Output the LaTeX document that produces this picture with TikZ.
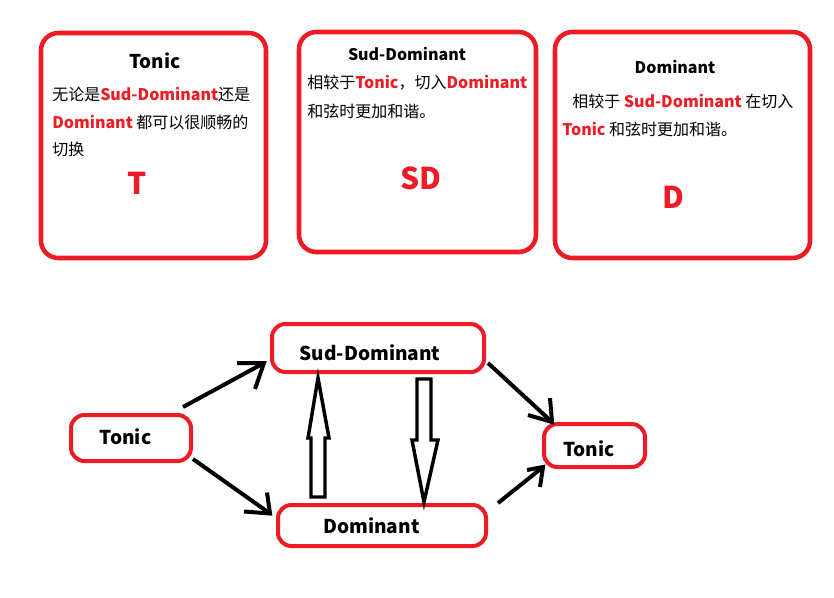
\documentclass[tikz,border=0pt]{standalone}
\usepackage{fontspec}
\setmainfont{Noto Sans CJK SC}
\usetikzlibrary{calc}
\definecolor{pred}{HTML}{ED1C24}
\newcommand\rb[1]{\textcolor{pred}{\bfseries #1}}
\begin{document}
\begin{tikzpicture}[x=0.75pt,y=-0.75pt,
  bigbox/.style={draw=pred,line width=3.4pt,rounded corners=13pt,inner sep=0pt,outer sep=0pt},
  statebox/.style={draw=pred,line width=3pt,rounded corners=10pt,inner sep=0pt,outer sep=0pt},
  statetext/.style={inner sep=0pt,font=\fontsize{14.3pt}{16pt}\selectfont\bfseries},
  body/.style={inner sep=0pt,anchor=base west,font=\fontsize{12pt}{14pt}\selectfont},
  title/.style={inner sep=0pt,anchor=base,font=\fontsize{12pt}{14pt}\selectfont\bfseries},
  letter/.style={inner sep=0pt,anchor=base,text=pred,font=\fontsize{22.5pt}{26pt}\selectfont\bfseries},
  link/.style={line width=3pt,black},
  hollow/.style={line width=2.6pt,black,line join=miter}]
\useasboundingbox (0,0) rectangle (834,597);

% top boxes
\node[bigbox,minimum width=225*0.75pt,minimum height=225*0.75pt] (b1) at (153.5,145.5) {};
\node[bigbox,minimum width=237*0.75pt,minimum height=220*0.75pt] (b2) at (417.5,142) {};
\node[bigbox,minimum width=255*0.75pt,minimum height=226*0.75pt] (b3) at (682.5,145) {};

% box 1
\node[title,font=\fontsize{14.2pt}{16pt}\selectfont\bfseries] (b1t) at (155,68) {Tonic};
\node[body] (b1l1) at (52,100) {无论是\rb{Sud-Dominant}还是};
\node[body] (b1l2) at (52,128) {\rb{Dominant} 都可以很顺畅的};
\node[body] (b1l3) at (52,155) {切换};
\node[letter] (b1x) at (137,194) {T};

% box 2
\node[title] (b2t) at (407,60) {Sud-Dominant};
\node[body] (b2l1) at (307,88) {相较于\rb{Tonic}，切入\rb{Dominant}};
\node[body] (b2l2) at (307,117) {和弦时更加和谐。};
\node[letter] (b2x) at (421,189) {SD};

% box 3
\node[title] (b3t) at (675,73) {Dominant};
\node[body] (b3l1) at (572,107) {相较于 \rb{Sud-Dominant} 在切入};
\node[body] (b3l2) at (562,135) {\rb{Tonic} 和弦时更加和谐。};
\node[letter] (b3x) at (673,208) {D};

% state nodes
\node[statebox,minimum width=212*0.75pt,minimum height=48*0.75pt] (sd) at (378,348) {};
\node[statebox,minimum width=120*0.75pt,minimum height=46*0.75pt] (tl) at (131,438) {};
\node[statebox,minimum width=208*0.75pt,minimum height=41*0.75pt] (dm) at (382,525.5) {};
\node[statebox,minimum width=101*0.75pt,minimum height=43*0.75pt] (tr) at (594.5,445.5) {};
\node[statetext] (sdtxt) at ($(sd)+(-8,4.5)$) {Sud-Dominant};
\node[statetext] (tltxt) at ($(tl)+(-5.5,-1)$) {Tonic};
\node[statetext] (dmtxt) at ($(dm)+(-10.5,0)$) {Dominant};
\node[statetext] (trtxt) at ($(tr)+(-5.5,3.5)$) {Tonic};

% Tonic -> SD
\coordinate (a1s) at ($(tl.north east)+(-8,-8)$);
\coordinate (a1t) at ($(sd.west)+(-8,15)$);
\draw[link] (a1s) -- (a1t);
\draw[link] ($(a1t)+(-27,0)$) -- (a1t) -- ($(a1t)+(-9,26)$);

% Tonic -> Dominant
\coordinate (a2s) at ($(tl.south east)+(2,-2)$);
\coordinate (a2t) at ($(dm.west)+(-8,-12)$);
\draw[link] (a2s) -- (a2t);
\draw[link] ($(a2t)+(-26,-2)$) -- (a2t) -- ($(a2t)+(-3,-21)$);

% hollow arrow Dominant -> SD (up)
\coordinate (h1b) at ($(dm.north west)+(40,-8)$);
\draw[hollow] ($(h1b)+(-7,0)$) -- ++(0,-59) -- ++(-3,0) -- ($(sd.south west)+(46,6)$)
  -- ($(h1b)+(11,-59)$) -- ++(-4,0) -- ($(h1b)+(7,0)$) -- cycle;

% hollow arrow SD -> Dominant (down)
\coordinate (h2b) at ($(sd.south west)+(152,7)$);
\draw[hollow] ($(h2b)+(-7,0)$) -- ++(0,61) -- ++(-5,0) -- ($(dm.north west)+(146,-3)$)
  -- ($(h2b)+(14,61)$) -- ++(-7,0) -- ($(h2b)+(7,0)$) -- cycle;

% SD -> Tonic right
\coordinate (a5s) at ($(sd.east)+(4,15)$);
\coordinate (a5t) at ($(tr.north west)+(8,-2)$);
\draw[link] (a5s) -- (a5t);
\draw[link] ($(a5t)+(-2,-24)$) -- (a5t) -- ($(a5t)+(-24,-7)$);

% Dominant -> Tonic right
\coordinate (a6s) at ($(dm.north east)+(12,-2)$);
\coordinate (a6t) at ($(tr.south west)+(-1,0)$);
\draw[link] (a6s) -- (a6t);
\draw[link] ($(a6t)+(-16,3)$) -- (a6t) -- ($(a6t)+(-3,20)$);
\end{tikzpicture}
\end{document}
